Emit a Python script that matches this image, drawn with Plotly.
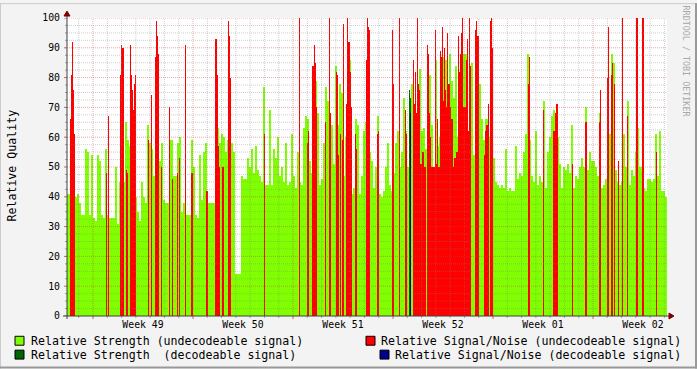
import plotly.graph_objects as go
import pandas as pd

# ---------------- data ----------------
START = pd.Timestamp("2008-11-29 04:19:12")
STRENGTH_STEP_S = 12096       # sampling step of the strength series
SNR_STEP_S = 6048             # sampling step of the signal/noise series

week_labels = ["Week 49", "Week 50", "Week 51", "Week 52", "Week 01", "Week 02"]
week_starts = ["2008-12-01", "2008-12-08", "2008-12-15", "2008-12-22", "2008-12-29", "2009-01-05"]

strength_undec = [
    41, 41, 45, 45, 40, 41, 38, 34, 34, 56,
    55, 34, 54, 33, 32, 54, 52, 34, 33, 56,
    34, 33, 33, 33, 50, 31, 45, 45, 45, 65,
    59, 57, 45, 45, 40, 35, 32, 45, 40, 38,
    64, 58, 56, 47, 45, 45, 52, 58, 39, 38,
    38, 59, 59, 47, 47, 58, 60, 35, 38, 34,
    34, 34, 59, 50, 34, 33, 54, 39, 55, 58,
    38, 38, 38, 38, 60, 63, 58, 61, 60, 55,
    59, 58, 58, 55, 14, 14, 14, 47, 46, 46,
    53, 50, 56, 48, 57, 49, 47, 45, 77, 44,
    44, 69, 44, 56, 53, 60, 47, 50, 45, 58,
    44, 45, 61, 47, 43, 55, 45, 44, 63, 67,
    66, 52, 48, 79, 79, 68, 44, 46, 58, 77,
    72, 50, 64, 51, 84, 64, 78, 75, 47, 60,
    50, 86, 41, 43, 66, 64, 41, 47, 62, 65,
    60, 55, 52, 43, 50, 67, 41, 40, 42, 50,
    58, 44, 42, 48, 58, 62, 50, 55, 73, 62,
    50, None, 78, 60, 60, 60, 83, 62, 63, 56,
    60, 81, 64, 50, 86, 57, 60, 60, 87, 86,
    60, 88, 79, 73, 84, 60, 60, 60, 88, 88,
    60, 62, 85, 54, 60, 81, 78, 66, 59, 66,
    66, 60, 60, 53, 45, 44, 43, 44, 43, 56,
    42, 43, 42, 42, 57, 46, 48, 47, 55, 61,
    88, 59, 47, 45, 62, 44, 47, 45, 72, 43,
    55, 60, 67, 69, 68, 60, 51, 43, 50, 49,
    51, 48, 64, 43, 47, 46, 50, 53, 50, 70,
    49, 55, 52, 52, 50, 47, 68, 43, 44, 46,
    50, 61, 88, 85, 49, 45, 44, 45, 61, 50,
    72, 44, 49, 47, 55, 63, 50, 50, 43, 42,
    46, 46, 45, 46, 61, 47, 62, 42, 42, 40,
]

# signal/noise (undecodeable): sample number -> value (only samples that exist)
snr_undec_sample = [
    3, 4, 5, 6, 7, 39, 41, 53, 54, 55, 56, 59, 60, 63, 64, 65, 66, 67, 68,
    81, 84, 88, 89, 90, 91, 94, 102, 105, 110, 112, 118, 124, 125, 139, 140,
    148, 149, 150, 151, 152, 155, 156, 161, 162, 163, 197, 232, 240, 241,
    245, 246, 247, 248, 249, 258, 262, 263, 269, 270, 271, 273, 275, 276,
    279, 280, 281, 282, 283, 284, 288, 289, 299, 300, 301, 302, 310, 311,
    325, 326, 332, 338, 339, 346, 347, 348, 349, 350, 351, 352, 353, 354,
    355, 356, 357, 358, 360, 361, 362, 363, 364, 365, 366, 367, 368, 369,
    370, 371, 372, 373, 374, 375, 376, 377, 378, 379, 380, 381, 382, 383,
    384, 385, 386, 387, 388, 389, 390, 391, 392, 393, 394, 395, 396, 397,
    398, 399, 400, 401, 402, 403, 408, 409, 410, 411, 417, 418, 419, 420,
    421, 423, 424, 425, 461, 462, 476, 486, 487, 488, 489, 490, 505, 518,
    519, 532, 533, 540, 541, 544, 545, 547, 551, 555, 560, 569, 570, 575,
    576, 589,
]
snr_undec_value = [
    66, 81, 92, 76, 61, 48, 67, 81, 91, 90, 90, 49, 48, 91, 81, 76, 69, 78, 81,
    59, 74, 87, 99, 94, 88, 50, 70, 46, 48, 53, 91, 48, 48, 42, 42,
    93, 93, 81, 57, 50, 50, 50, 99, 94, 80, 61, 100, 58, 62,
    84, 84, 91, 85, 70, 65, 100, 68, 82, 81, 54, 61, 59, 98,
    71, 100, 92, 92, 82, 70, 61, 56, 86, 100, 97, 96, 61, 62,
    96, 78, 100, 69, 61, 86, 71, 82, 68, 100, 78, 76, 51, 51,
    55, 55, 50, 50, 91, 88, 68, 60, 50, 50, 50, 50, 96, 51,
    66, 50, 50, 89, 87, 97, 72, 90, 76, 70, 95, 78, 78, 70,
    66, 66, 50, 53, 53, 55, 55, 94, 82, 88, 95, 100, 70, 70,
    70, 86, 93, 62, 100, 84, 96, 99, 94, 94, 54, 62, 64, 64,
    71, 99, 100, 90, 78, 87, 69, 62, 62, 68, 71, 71, 51, 65,
    65, 65, 76, 80, 97, 81, 85, 78, 52, 100, 67, 100, 100, 100,
    100, 55,
]

# decodeable signal (rare)
strength_dec_sample = [342, 343]
strength_dec_value = [76, 73]
snr_dec_sample = [343]
snr_dec_value = [68]

# ---------------- geometry helpers (pixel -> paper) ----------------
W, H = 697, 369
L, R, T, B = 67, 30, 15, 53
PW, PH = W - L - R, H - T - B


def px(x):
    return (x - L) / PW


def py(y):
    return (H - B - y) / PH


def t_of(sample, step_s):
    return START + pd.Timedelta(seconds=sample * step_s)


strength_times = [t_of(i, STRENGTH_STEP_S) for i in range(len(strength_undec))]
x_end = START + pd.Timedelta(days=42)

FONT = "DejaVu Sans Mono"
GREEN = "#80FF00"
RED = "#FF0000"
DGREEN = "#006400"
NAVY = "#000090"

fig = go.Figure()
fig.add_bar(x=strength_times, y=strength_undec, width=STRENGTH_STEP_S * 1000, offset=0,
            marker=dict(color=GREEN, line=dict(width=0)), hoverinfo="skip")
fig.add_bar(x=[t_of(s, SNR_STEP_S) for s in strength_dec_sample], y=strength_dec_value,
            width=SNR_STEP_S * 1000, offset=0,
            marker=dict(color=DGREEN, line=dict(width=0)), hoverinfo="skip")
fig.add_bar(x=[t_of(s, SNR_STEP_S) for s in snr_undec_sample], y=snr_undec_value,
            width=SNR_STEP_S * 1000, offset=0,
            marker=dict(color=RED, line=dict(width=0)), hoverinfo="skip")
fig.add_bar(x=[t_of(s, SNR_STEP_S) for s in snr_dec_sample], y=snr_dec_value,
            width=SNR_STEP_S * 1000, offset=0,
            marker=dict(color=NAVY, line=dict(width=0)), hoverinfo="skip")

MAJ = "rgba(200,60,60,0.45)"
MIN = "rgba(128,128,128,0.38)"
shapes = []
# horizontal grid (drawn above the data, like rrdtool)
for i in range(1, 41):
    v = i * 2.5
    major = (i % 4 == 0)
    shapes.append(dict(type="line", xref="paper", yref="y", x0=0, x1=1, y0=v, y1=v,
                       layer="above", line=dict(color=MAJ if major else MIN, width=1, dash="1px,1px")))
# vertical grid: days (minor) and weeks (major)
day0 = pd.Timestamp("2008-11-30")
for d in range(0, 42):
    t = day0 + pd.Timedelta(days=d)
    if t <= START or t >= x_end:
        continue
    major = (t.dayofweek == 0)
    shapes.append(dict(type="line", xref="x", yref="paper", x0=t, x1=t, y0=0, y1=1,
                       layer="above", line=dict(color=MAJ if major else MIN, width=1, dash="1px,1px")))
    shapes.append(dict(type="line", xref="x", yref="paper", x0=t, x1=t,
                       y0=py(316), y1=py(319 if major else 318), layer="above",
                       line=dict(color="#D06060" if major else "#A0A0A0", width=1)))
# small y ticks
for i in range(0, 41):
    v = i * 2.5
    shapes.append(dict(type="line", xref="paper", yref="y", x0=px(64 if i % 4 == 0 else 65), x1=px(67),
                       y0=v, y1=v, layer="above",
                       line=dict(color="#D06060" if i % 4 == 0 else "#A0A0A0", width=1)))

AXIS = "#404040"
shapes.append(dict(type="line", xref="paper", yref="paper", x0=px(67), x1=px(67),
                   y0=py(319), y1=py(12), layer="above", line=dict(color=AXIS, width=1)))
shapes.append(dict(type="line", xref="paper", yref="paper", x0=px(63), x1=px(670),
                   y0=py(316), y1=py(316), layer="above", line=dict(color=AXIS, width=1)))


def tri(points):
    return "M " + " L ".join(f"{px(a):.5f},{py(b):.5f}" for a, b in points) + " Z"


ARROW = "#7F0000"
shapes.append(dict(type="path", xref="paper", yref="paper", layer="above",
                   path=tri([(67, 8), (64, 13), (70, 13)]),
                   fillcolor=ARROW, line=dict(color=ARROW, width=1)))
shapes.append(dict(type="path", xref="paper", yref="paper", layer="above",
                   path=tri([(674, 316), (669, 313), (669, 319)]),
                   fillcolor=ARROW, line=dict(color=ARROW, width=1)))

# legend
legend_items = [
    (15, 341, GREEN, "Relative Strength (undecodeable signal)", 30),
    (15, 355, DGREEN, "Relative Strength\u00a0\u00a0(decodeable signal)", 30),
    (366, 341, RED, "Relative Signal/Noise (undecodeable signal)", 380),
    (380, 355, NAVY, "Relative Signal/Noise (decodeable signal)", 394),
]
annotations = []
for sx, sy, col, text, tx in legend_items:
    shapes.append(dict(type="rect", xref="paper", yref="paper",
                       x0=px(sx), x1=px(sx + 9), y0=py(sy - 4.5), y1=py(sy + 4.5),
                       fillcolor=col, line=dict(color="#000000", width=1)))
    annotations.append(dict(xref="paper", yref="paper", x=px(tx - 1), y=py(sy),
                            xanchor="left", yanchor="middle", showarrow=False,
                            text=text, font=dict(family=FONT, size=11.6, color="#000000")))

annotations.append(dict(xref="paper", yref="paper", x=px(12), y=py(164),
                        xanchor="center", yanchor="middle", showarrow=False, textangle=-90,
                        text="Relative Quality", font=dict(family=FONT, size=11.6, color="#000000")))
annotations.append(dict(xref="paper", yref="paper", x=px(686), y=py(59),
                        xanchor="center", yanchor="middle", showarrow=False, textangle=90,
                        text="RRDTOOL / TOBI OETIKER", font=dict(family=FONT, size=8.4, color="#A8A8A8")))

# frame shading
shapes.append(dict(type="line", xref="paper", yref="paper", x0=px(0), x1=px(697), y0=py(0.5), y1=py(0.5),
                   line=dict(color="#CBCBCB", width=1)))
shapes.append(dict(type="line", xref="paper", yref="paper", x0=px(0.5), x1=px(0.5), y0=py(0), y1=py(369),
                   line=dict(color="#CBCBCB", width=1)))
shapes.append(dict(type="line", xref="paper", yref="paper", x0=px(0), x1=px(697), y0=py(368), y1=py(368),
                   line=dict(color="#999999", width=2)))
shapes.append(dict(type="line", xref="paper", yref="paper", x0=px(696), x1=px(696), y0=py(0), y1=py(369),
                   line=dict(color="#999999", width=2)))

mid_week = [pd.Timestamp(s) + pd.Timedelta(hours=84) for s in week_starts]

fig.update_layout(
    width=W, height=H,
    margin=dict(l=L, r=R, t=T, b=B, pad=0),
    paper_bgcolor="#F3F3F3", plot_bgcolor="#FFFFFF",
    barmode="overlay", bargap=0, showlegend=False,
    shapes=shapes, annotations=annotations,
    xaxis=dict(type="date", range=[START, x_end], showgrid=False, zeroline=False,
               showline=False, ticks="", tickvals=mid_week, ticktext=week_labels,
               tickfont=dict(family=FONT, size=9.8, color="#000000"),
               ticklabelstandoff=1, fixedrange=True),
    yaxis=dict(range=[0, 100], showgrid=False, zeroline=False, showline=False,
               ticks="", tickvals=list(range(0, 101, 10)),
               tickfont=dict(family=FONT, size=9.8, color="#000000"),
               ticklabelstandoff=6, fixedrange=True),
)

fig.write_html("out.html")
